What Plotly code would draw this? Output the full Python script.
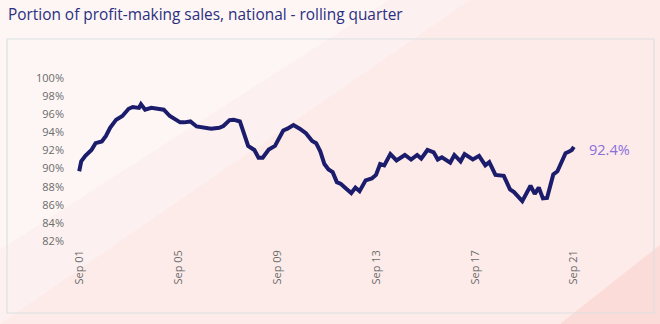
import plotly.graph_objects as go

# ---- data ----
dates = [
    "2001-09", "2001-10", "2001-12", "2002-03", "2002-05", "2002-08", "2002-10", "2002-12",
    "2003-03", "2003-06", "2003-09", "2003-11", "2004-02", "2004-03", "2004-05", "2004-08",
    "2004-11", "2005-02", "2005-05", "2005-08", "2005-10", "2005-12", "2006-03", "2006-06",
    "2006-10", "2007-01", "2007-05", "2007-07", "2007-10", "2007-12", "2008-03", "2008-05",
    "2008-07", "2008-10", "2008-12", "2009-02", "2009-05", "2009-08", "2009-10", "2009-12",
    "2010-02", "2010-05", "2010-08", "2010-11", "2011-02", "2011-04", "2011-06", "2011-08",
    "2011-10", "2011-12", "2012-02", "2012-04", "2012-07", "2012-09", "2012-11", "2013-01",
    "2013-04", "2013-07", "2013-09", "2013-11", "2014-01", "2014-04", "2014-07", "2014-11",
    "2015-02", "2015-05", "2015-07", "2015-10", "2016-01", "2016-03", "2016-05", "2016-09",
    "2016-11", "2017-02", "2017-04", "2017-08", "2017-11", "2018-02", "2018-04", "2018-07",
    "2018-11", "2019-02", "2019-04", "2019-08", "2019-12", "2020-02", "2020-04", "2020-06",
    "2020-08", "2020-11", "2021-01", "2021-05", "2021-07", "2021-08", "2021-09",
]
values = [
    89.7, 90.8, 91.4, 92.05, 92.8, 93.0, 93.6, 94.5,
    95.4, 95.8, 96.6, 96.8, 96.7, 97.1, 96.5, 96.7,
    96.6, 96.5, 95.8, 95.3, 95.1, 95.1, 95.2, 94.65,
    94.5, 94.4, 94.5, 94.7, 95.35, 95.4, 95.2, 94.0,
    92.5, 92.05, 91.2, 91.2, 92.1, 92.5, 93.4, 94.2,
    94.4, 94.8, 94.4, 93.9, 93.05, 92.8, 91.9, 90.5,
    89.9, 89.6, 88.5, 88.3, 87.7, 87.3, 87.9, 87.5,
    88.7, 88.9, 89.3, 90.5, 90.35, 91.6, 90.9, 91.5,
    91.0, 91.5, 91.1, 92.05, 91.8, 91.0, 91.25, 90.65,
    91.5, 90.8, 91.6, 91.0, 91.4, 90.35, 90.7, 89.3,
    89.2, 87.7, 87.4, 86.4, 88.1, 87.2, 87.9, 86.7,
    86.75, 89.35, 89.7, 91.7, 91.9, 92.05, 92.4,
]
tick_dates = ["2001-09-01", "2005-09-01", "2009-09-01", "2013-09-01", "2017-09-01", "2021-09-01"]
tick_text = ["Sep 01", "Sep 05", "Sep 09", "Sep 13", "Sep 17", "Sep 21"]
y_ticks = [82, 84, 86, 88, 90, 92, 94, 96, 98, 100]
title_text = "Portion of profit-making sales, national - rolling quarter"
last_label = "92.4%"

# ---- layout geometry ----
W, H = 660, 324
ML, MR, MT, MB = 75, 82, 78, 83
PW, PH = W - ML - MR, H - MT - MB


def px(x):
    return (x - ML) / PW


def py(y):
    return (H - MB - y) / PH


fig = go.Figure()
fig.add_trace(go.Scatter(
    x=[d + "-01" for d in dates], y=values, mode="lines",
    line=dict(color="#1b1c6b", width=4, shape="linear"),
    hoverinfo="skip", showlegend=False,
))

shapes = [
    # lighter upper-left wash
    dict(type="path", xref="paper", yref="paper", layer="below", line=dict(width=0),
         fillcolor="#fdf6f5",
         path=f"M {px(0)},{py(0)} L {px(390)},{py(0)} L {px(0)},{py(250)} Z"),
    # mid band
    dict(type="path", xref="paper", yref="paper", layer="below", line=dict(width=0),
         fillcolor="#fcf1f0",
         path=f"M {px(0)},{py(250)} L {px(390)},{py(0)} L {px(470)},{py(0)} L {px(0)},{py(324)} Z"),
    # deeper pink bottom-right corner
    dict(type="path", xref="paper", yref="paper", layer="below", line=dict(width=0),
         fillcolor="#fbdcd8",
         path=f"M {px(560)},{py(324)} L {px(660)},{py(245)} L {px(660)},{py(324)} Z"),
    # card border
    dict(type="rect", xref="paper", yref="paper", layer="below",
         x0=px(7), x1=px(654), y0=py(313), y1=py(39),
         line=dict(color="#dcdfe2", width=1.2), fillcolor="rgba(0,0,0,0)"),
]

fig.update_layout(
    width=W, height=H,
    margin=dict(l=ML, r=MR, t=MT, b=MB),
    paper_bgcolor="#fdebe9",
    plot_bgcolor="rgba(0,0,0,0)",
    shapes=shapes,
    title=dict(text=title_text, x=8 / W, xref="container", xanchor="left",
               y=1 - 15 / H, yanchor="middle", yref="container",
               font=dict(family="Open Sans", size=15.4, color="#2b2f80")),
    xaxis=dict(type="date", range=["2001-07-01", "2021-11-01"],
               tickvals=tick_dates, ticktext=tick_text, tickangle=-90,
               showgrid=False, zeroline=False, showline=False, ticks="",
               ticklabelstandoff=6,
               tickfont=dict(family="Open Sans", size=11, color="#6b6b6b")),
    yaxis=dict(range=[82, 100], tickvals=y_ticks,
               ticktext=[f"{v}%" for v in y_ticks],
               showgrid=False, zeroline=False, showline=False, ticks="",
               ticklabelstandoff=10,
               tickfont=dict(family="Open Sans", size=11, color="#6b6b6b")),
    annotations=[dict(text=last_label, x=dates[-1] + "-01", y=values[-1],
                      xref="x", yref="y", xanchor="left", yanchor="middle",
                      xshift=13, yshift=-3, showarrow=False,
                      font=dict(family="Open Sans", size=14.5, color="#8a6fdc"))],
)

fig.write_html("out.html")
